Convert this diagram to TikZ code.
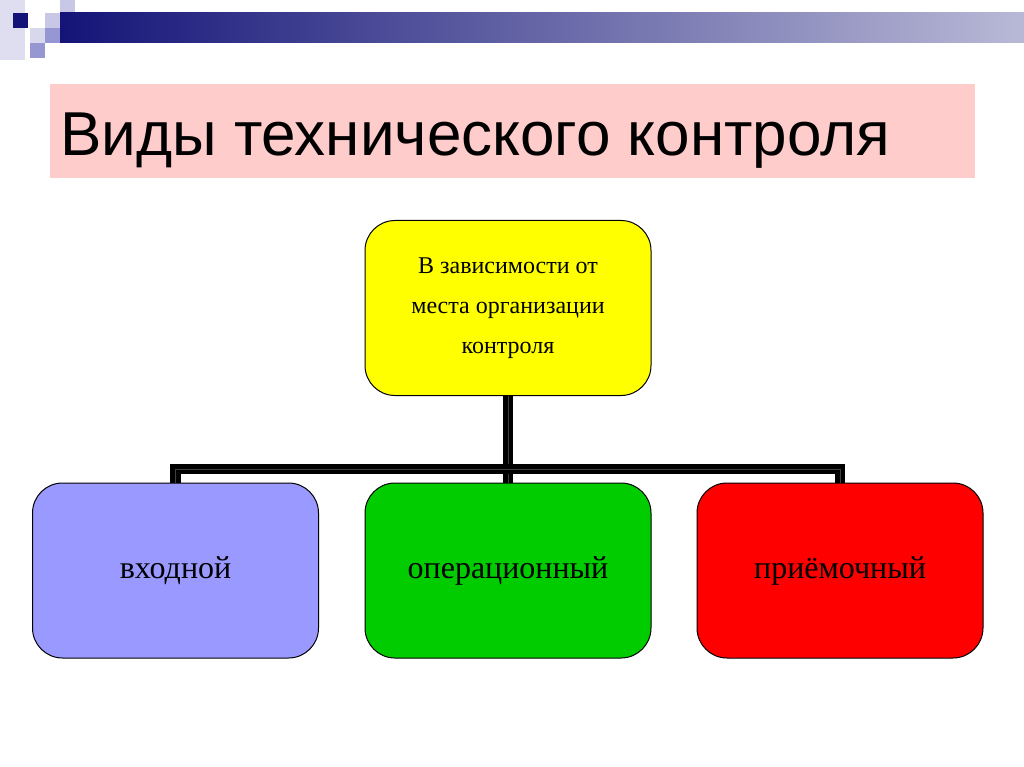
\documentclass[tikz,border=0pt]{standalone}
\usepackage{fontspec}
\setmainfont{Liberation Serif}
\newfontfamily\titlefont{Liberation Sans}
\definecolor{navy}{RGB}{20,20,120}
\definecolor{lav}{RGB}{200,200,230}
\definecolor{lav2}{RGB}{150,150,210}
\definecolor{pinkbg}{RGB}{255,204,204}
\definecolor{bluebox}{RGB}{153,153,255}
\definecolor{greenbox}{RGB}{0,204,0}
\definecolor{redbox}{RGB}{255,0,0}
\definecolor{yellowbox}{RGB}{255,255,0}
\begin{document}
\begin{tikzpicture}[x=1pt,y=-1pt,
  box/.style={draw=black,line width=1pt,rounded corners=30pt,minimum width=286pt,minimum height=175pt,inner sep=0pt,align=center},
  conn/.style={draw=black,line width=5pt,double=black!75,double distance=0.8pt}]
\useasboundingbox (0,0) rectangle (1024,767);
\fill[white] (0,0) rectangle (1024,767);
% decoration
\fill[lav!60] (0,0) rectangle (25,60);
\fill[lav] (60,0) rectangle (75,13);
\fill[lav] (45,13) rectangle (60,28);
\fill[lav2] (45,28) rectangle (60,43);
\fill[lav!70] (30,28) rectangle (45,43);
\fill[lav2] (30,43) rectangle (45,58);
\fill[navy] (13,13) rectangle (28,28);
\shade[left color=navy,right color=navy!30] (60,13) rectangle (1024,43);
% title
\fill[pinkbg] (50,84) rectangle (975,178);
\node[anchor=base west,inner sep=0pt,font=\titlefont\fontsize{62}{70}\selectfont] (title) at (60,156) {Виды технического контроля};
% boxes
\node[box,fill=yellowbox,font=\fontsize{24}{40}\selectfont] (top) at (508,308) {В зависимости от\\места организации\\контроля};
\node[box,fill=bluebox,font=\fontsize{32}{36}\selectfont] (in) at (175.5,570.5) {входной};
\node[box,fill=greenbox,font=\fontsize{32}{36}\selectfont] (op) at (508,570.5) {операционный};
\node[box,fill=redbox,font=\fontsize{32}{36}\selectfont] (pr) at (840,570.5) {приёмочный};
% connectors
\coordinate (bus) at (508,469);
\draw[conn] (top.south) -- (op.north);
\draw[conn] (in.north) -- (in.north |- bus) -- (pr.north |- bus) -- (pr.north);
\end{tikzpicture}
\end{document}
